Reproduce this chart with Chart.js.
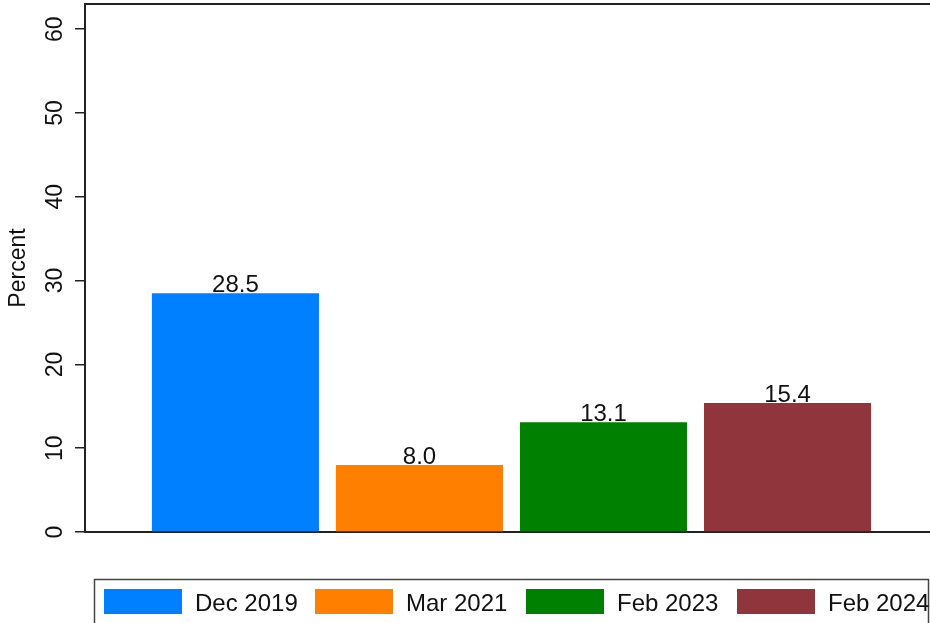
<!DOCTYPE html>
<html>
<head>
<meta charset="utf-8">
<script src="https://cdn.jsdelivr.net/npm/chart.js@4.4.1/dist/chart.umd.min.js"></script>
<style>
	html, body { margin: 0; padding: 0; background: #fff; overflow: hidden; }
	#wrap { width: 940px; height: 623px; position: relative; }
</style>
</head>
<body>
<div id="wrap"><canvas id="chart"></canvas></div>
<script>
var labels = ['Dec 2019', 'Mar 2021', 'Feb 2023', 'Feb 2024'];
var percent = [28.5, 8.0, 13.1, 15.4];
var colors = ['rgb(0,128,255)', 'rgb(255,128,0)', 'rgb(0,128,0)', 'rgb(144,53,59)'];
var yTicks = [0, 10, 20, 30, 40, 50, 60];

var fontFamily = "'Liberation Sans', Arial, Helvetica, sans-serif";
var ink = '#111';
var lineColor = '#222';

var datasets = labels.map(function(l, i) {
	return {
		label: l,
		data: [percent[i]],
		backgroundColor: colors[i],
		borderWidth: 0,
		categoryPercentage: 0.863,
		barPercentage: 0.908
	};
});

// numbers over the bars
var valueLabels = {
	id: 'valueLabels',
	afterDatasetsDraw: function(chart) {
		var ctx = chart.ctx;
		ctx.save();
		ctx.font = '24px ' + fontFamily;
		ctx.fillStyle = ink;
		ctx.textAlign = 'center';
		ctx.textBaseline = 'alphabetic';
		chart.data.datasets.forEach(function(ds, i) {
			var bar = chart.getDatasetMeta(i).data[0];
			ctx.fillText(ds.data[0].toFixed(1), bar.x, bar.y - 1);
		});
		ctx.restore();
	}
};

// top line of the plot region + boxed legend underneath
var frame = {
	id: 'frame',
	afterDraw: function(chart) {
		var ctx = chart.ctx;
		var a = chart.chartArea;
		ctx.save();
		ctx.strokeStyle = lineColor;
		ctx.lineWidth = 2;
		ctx.beginPath();
		ctx.moveTo(a.left, a.top);
		ctx.lineTo(a.right, a.top);
		ctx.stroke();

		ctx.lineWidth = 1.5;
		ctx.strokeStyle = '#444';
		ctx.strokeRect(94.5, 579.5, 834, 60);

		ctx.font = '24px ' + fontFamily;
		ctx.textBaseline = 'alphabetic';
		ctx.textAlign = 'left';
		chart.data.datasets.forEach(function(ds, i) {
			var x = 104 + i * 211;
			ctx.fillStyle = ds.backgroundColor;
			ctx.fillRect(x, 589, 78, 25);
			ctx.fillStyle = ink;
			ctx.fillText(ds.label, x + 91, 611);
		});
		ctx.restore();
	}
};

var ctx = document.getElementById('chart').getContext('2d');
var chart = new Chart(ctx, {
	type: 'bar',
	data: {
		labels: [''],
		datasets: datasets
	},
	options: {
		responsive: true,
		maintainAspectRatio: false,
		animation: false,
		layout: {
			padding: { top: 4, right: 2, bottom: 91, left: 0 }
		},
		plugins: {
			legend: { display: false },
			tooltip: { enabled: false }
		},
		scales: {
			x: {
				afterFit: function(scale) {
					scale.height = 0;
				},
				grid: { display: false },
				ticks: { display: false },
				border: { display: true, color: lineColor, width: 2 }
			},
			y: {
				min: 0,
				max: 63,
				afterBuildTicks: function(scale) {
					scale.ticks = yTicks.map(function(v) { return { value: v }; });
				},
				afterFit: function(scale) {
					scale.width = 85;
					scale.paddingTop = 0;
					scale.paddingBottom = 0;
				},
				grid: {
					display: true,
					drawOnChartArea: false,
					drawTicks: true,
					tickLength: 10,
					color: lineColor,
					lineWidth: 1.5
				},
				border: { display: true, color: lineColor, width: 2 },
				ticks: {
					minRotation: 90,
					maxRotation: 90,
					crossAlign: 'center',
					padding: 7,
					color: ink,
					font: { family: fontFamily, size: 23 }
				},
				title: {
					display: true,
					text: 'Percent',
					color: ink,
					padding: { top: 5, bottom: 0 },
					font: { family: fontFamily, size: 23 }
				}
			}
		}
	},
	plugins: [valueLabels, frame]
});
</script>
</body>
</html>
